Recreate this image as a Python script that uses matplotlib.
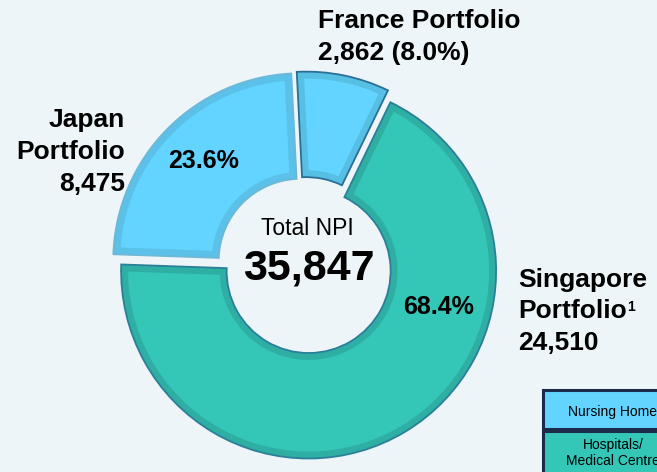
import matplotlib.pyplot as plt
from matplotlib.patches import Rectangle

plt.rcParams["font.family"] = ["Liberation Sans", "DejaVu Sans"]

# Data (NPI by portfolio)
portfolios = ["Japan", "France", "Singapore"]
npi = [8475, 2862, 24510]
shares = [23.6, 8.0, 68.4]
total_npi = 35847
legend_labels = ["Nursing Home", "Hospitals/\nMedical Centre"]

# Styling
BG = "#EEF5F8"
fills = ["#63D4FF", "#63D4FF", "#34C6B6"]
bands = ["#5BC1E8", "#57BEE4", "#2FAFA3"]
outlines = ["#6DB8D6", "#2A6F96", "#2A7F9A"]
explode = [6, 6, 7]  # pie explode is in data units (pixels here)

W, H = 657, 472
CX, CY = 305, H - 265
R, WIDTH = 187.5, 105.5


def Y(y):
    # image row -> data y
    return H - y


fig = plt.figure(figsize=(W / 100, H / 100), dpi=100, facecolor=BG)
ax = fig.add_axes([0, 0, 1, 1])
ax.set_facecolor(BG)

pie_kw = dict(explode=explode, radius=R, center=(CX, CY), startangle=178, counterclock=False)

# Fill
wedges, _ = ax.pie(npi, colors=fills, wedgeprops=dict(width=WIDTH, linewidth=0), **pie_kw)

# Lighter inner band: thick edge clipped to the filled wedge
# (pie makes wedges with clip_on=False, so switch it back on)
band_w, _ = ax.pie(npi, wedgeprops=dict(width=WIDTH, facecolor="none", linewidth=10), **pie_kw)
for bw, fw, c in zip(band_w, wedges, bands):
    bw.set_edgecolor(c)
    bw.set_clip_on(True)
    bw.set_clip_path(fw)

# Thin outline on top
outl, _ = ax.pie(npi, wedgeprops=dict(width=WIDTH, facecolor="none", linewidth=1.3), **pie_kw)
for w, c in zip(outl, outlines):
    w.set_edgecolor(c)

# Percent labels inside the wedges
ax.text(204, Y(161), f"{shares[0]:.1f}%", ha="center", va="center", fontsize=18, fontweight="bold")
ax.text(439, Y(307), f"{shares[2]:.1f}%", ha="center", va="center", fontsize=18, fontweight="bold")

# Center text
ax.text(307, Y(235), "Total NPI", ha="center", va="baseline", fontsize=16.5)
ax.text(309, Y(280), f"{total_npi:,}", ha="center", va="baseline", fontsize=31, fontweight="bold")

lab = dict(fontsize=19, fontweight="bold", va="baseline")
# France
ax.text(318, Y(28), f"{portfolios[1]} Portfolio", ha="left", **lab)
ax.text(318, Y(60), f"{npi[1]:,} ({shares[1]:.1f}%)", ha="left", **lab)
# Japan
ax.text(125, Y(127), portfolios[0], ha="right", **lab)
ax.text(125, Y(159), "Portfolio", ha="right", **lab)
ax.text(125, Y(191), f"{npi[0]:,}", ha="right", **lab)
# Singapore
ax.text(518, Y(287), portfolios[2], ha="left", **lab)
port = ax.text(518, Y(318), "Portfolio", ha="left", **lab)
ax.text(518, Y(350), f"{npi[2]:,}", ha="left", **lab)
ax.annotate("1", xy=(1, 1), xycoords=port, xytext=(0, -1), textcoords="offset points",
            ha="left", va="top", fontsize=10, fontweight="bold")

# Legend boxes (cut off at the right edge as in the source)
ax.add_patch(Rectangle((543, Y(429)), 160, 39, facecolor=fills[0], edgecolor="#1C2B4B", linewidth=2.2))
ax.add_patch(Rectangle((543, Y(490)), 160, 59, facecolor=fills[2], edgecolor="#1C2B4B", linewidth=2.2))
ax.text(613, Y(412), legend_labels[0], ha="center", va="center", fontsize=10)
ax.text(613, Y(453), legend_labels[1], ha="center", va="center", fontsize=10, linespacing=1.15)

ax.set_xlim(0, W)
ax.set_ylim(0, H)
ax.set_aspect("auto")
ax.axis("off")

fig.savefig("out.png", dpi=100, facecolor=BG)
